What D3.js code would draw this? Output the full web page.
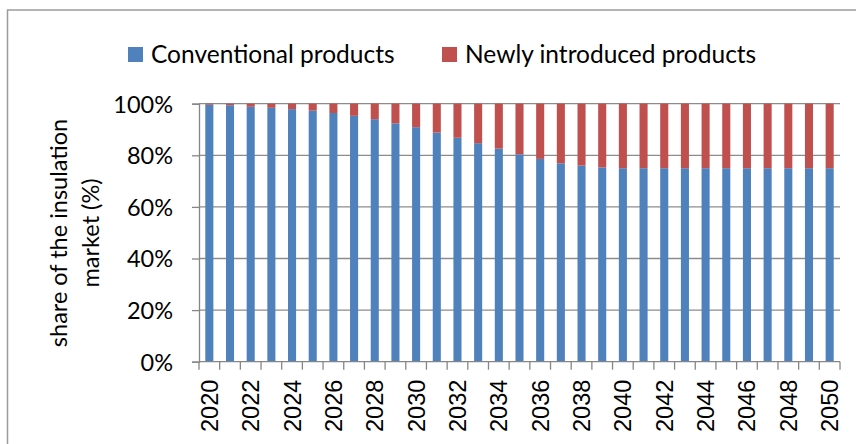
<!DOCTYPE html>
<html>
<head>
<meta charset="utf-8">
<script src="https://cdn.jsdelivr.net/npm/d3@7"></script>
<style>
  html, body { margin: 0; padding: 0; background: #fff; }
  svg { display: block; }
  .cal { font-family: Lato, "Open Sans", sans-serif; fill: #000; }
  .yr { font-family: "Liberation Sans", Arial, sans-serif; fill: #000; }
</style>
</head>
<body>
<script>
// Market share of insulation products, 2020–2050 (percent of market)
const years = d3.range(2020, 2051).map(String);
const conventional = [99.6, 99.4, 98.8, 98.4, 97.9, 97.3, 96.4, 95.3, 94.0, 92.4,
                      90.9, 88.8, 86.8, 84.7, 82.6, 80.4, 78.6, 76.9, 76.0, 75.3,
                      75, 75, 75, 75, 75, 75, 75, 75, 75, 75, 75];
const newlyIntroduced = [0.4, 0.6, 1.2, 1.6, 2.1, 2.7, 3.6, 4.7, 6.0, 7.6,
                         9.1, 11.2, 13.2, 15.3, 17.4, 19.6, 21.4, 23.1, 24.0, 24.7,
                         25, 25, 25, 25, 25, 25, 25, 25, 25, 25, 25];
const seriesNames = ["Conventional products", "Newly introduced products"];
const seriesKeys = ["conventional", "newly"];
const seriesColors = ["#4F81BD", "#C0504D"];
const yTicks = [0, 20, 40, 60, 80, 100];
const yearLabels = years.filter((d, i) => i % 2 === 0);

const W = 856, H = 444;
const plot = { left: 199, right: 840, top: 103.7, bottom: 361.7 };

const svg = d3.select("body").append("svg").attr("width", W).attr("height", H);

// outer chart frame
svg.append("path")
  .attr("d", `M7.5,${H} V10 H${W}`)
  .attr("fill", "none").attr("stroke", "#9c9c9c").attr("stroke-width", 1.5);

const rows = years.map((y, i) => ({ year: y, conventional: conventional[i], newly: newlyIntroduced[i] }));
const stacked = d3.stack().keys(seriesKeys)(rows);

const x = d3.scaleBand().domain(years).range([plot.left, plot.right])
  .paddingInner(0.61).paddingOuter(0.305);
const y = d3.scaleLinear().domain([0, 100]).range([plot.bottom, plot.top]);

// horizontal gridlines
svg.append("g").selectAll("line").data(yTicks.filter(t => t > 0)).join("line")
  .attr("x1", plot.left).attr("x2", plot.right)
  .attr("y1", d => y(d)).attr("y2", d => y(d))
  .attr("stroke", "#8c8c8c").attr("stroke-width", 1.3);

// stacked bars
svg.append("g").selectAll("g").data(stacked).join("g")
  .attr("fill", (d, i) => seriesColors[i])
  .selectAll("rect").data(d => d).join("rect")
  .attr("x", d => x(d.data.year))
  .attr("width", x.bandwidth())
  .attr("y", d => y(d[1]))
  .attr("height", d => y(d[0]) - y(d[1]));

// y axis
const yAxis = svg.append("g").attr("transform", `translate(${plot.left},0)`)
  .call(d3.axisLeft(y).tickValues(yTicks).tickSize(7).tickPadding(19).tickFormat(d => d + "%"));
yAxis.select(".domain").attr("stroke", "#868686").attr("stroke-width", 1.3);
yAxis.selectAll(".tick line").attr("stroke", "#868686").attr("stroke-width", 1.3);
yAxis.selectAll(".tick text").attr("class", "cal").attr("font-size", 23.5).attr("dy", "0.36em");

// x axis: ticks at category boundaries
const step = x.step();
const bounds = d3.range(years.length + 1).map(i => plot.left + i * step);
svg.append("line")
  .attr("x1", plot.left).attr("x2", plot.right)
  .attr("y1", plot.bottom).attr("y2", plot.bottom)
  .attr("stroke", "#868686").attr("stroke-width", 1.3);
svg.append("g").selectAll("line").data(bounds).join("line")
  .attr("x1", d => d).attr("x2", d => d)
  .attr("y1", plot.bottom).attr("y2", plot.bottom + 8)
  .attr("stroke", "#868686").attr("stroke-width", 1.3);
svg.append("g").selectAll("text").data(yearLabels).join("text")
  .attr("class", "yr").attr("font-size", 23.5)
  .attr("text-anchor", "end")
  .attr("transform", d => `translate(${x(d) + x.bandwidth() / 2 + 8.5},${plot.bottom + 18}) rotate(-90)`)
  .text(d => d);

// y axis title
const title = svg.append("text").attr("class", "cal").attr("font-size", 23.5)
  .attr("text-anchor", "middle")
  .attr("transform", "translate(67,233) rotate(-90)");
title.append("tspan").attr("x", 0).attr("y", 0).text("share of the insulation");
title.append("tspan").attr("x", 0).attr("y", 32).text("market (%)");

// legend
const legendX = [128, 442];
const lg = svg.append("g").selectAll("g").data(seriesNames).join("g")
  .attr("transform", (d, i) => `translate(${legendX[i]},47)`);
lg.append("rect").attr("width", 15).attr("height", 15).attr("fill", (d, i) => seriesColors[i]);
lg.append("text").attr("class", "cal").attr("font-size", 24.5)
  .attr("x", 23).attr("y", 7.5).attr("dy", "0.36em").text(d => d);
</script>
</body>
</html>
